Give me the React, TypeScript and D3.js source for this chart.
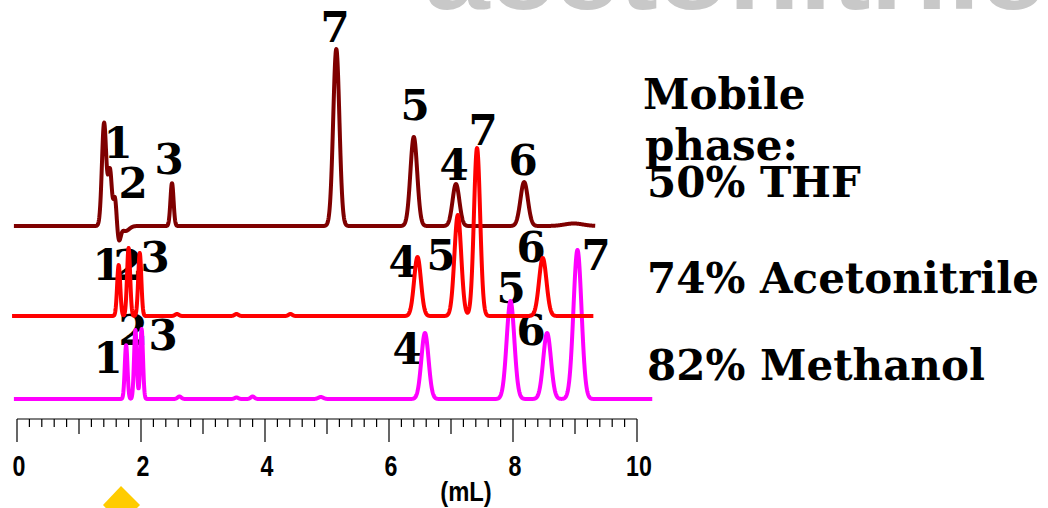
import React from 'react';
import * as d3 from 'd3';

// ---------- DATA ----------
// x axis (elution volume, mL)
const majorTicks = [0, 2, 4, 6, 8, 10];
const axisTitle = '(mL)';
const headerText = 'acetonitrile';
const legendLines = ['Mobile', 'phase:', '50% THF', '74% Acetonitrile', '82% Methanol'];

// Peak tables: retention (mL), height (signal units), width (sigma, mL)
const thfRetention = [1.405, 1.50, 1.58, 1.645, 1.75, 2.50, 5.15, 6.40, 7.08, 8.18, 8.98];
const thfHeight = [103, 55, 28, -14, -5, 43, 177, 89, 42, 44, 2.5];
const thfWidth = [0.035, 0.03, 0.025, 0.028, 0.06, 0.025, 0.05, 0.055, 0.055, 0.06, 0.15];

const acnRetention = [1.64, 1.80, 1.98, 2.58, 3.54, 4.41, 6.46, 7.11, 7.42, 8.48];
const acnHeight = [51, 68, 63, 2, 2, 2, 59, 101, 168, 58];
const acnWidth = [0.025, 0.025, 0.025, 0.03, 0.03, 0.03, 0.055, 0.055, 0.05, 0.06];

const meohRetention = [1.76, 1.91, 2.01, 2.62, 3.54, 3.80, 4.90, 6.58, 7.96, 8.55, 9.04];
const meohHeight = [54, 69, 70, 2.5, 1.5, 2.5, 2, 66, 98, 66, 149];
const meohWidth = [0.022, 0.022, 0.022, 0.03, 0.03, 0.03, 0.04, 0.058, 0.062, 0.062, 0.065];

const thfLabels = ['1', '2', '3', '7', '5', '4', '6'];
const acnLabels = ['1', '2', '3', '4', '5', '7', '6'];
const meohLabels = ['1', '2', '3', '4', '5', '6', '7'];

// ---------- LAYOUT ----------
const W = 1048;
const H = 508;
const xScale = d3.scaleLinear().domain([0, 10]).range([17, 637]);
const yScale = d3.scaleLinear().domain([0, 100]).range([0, -100]);
const axisY = 419;

const traces = [
  { ret: thfRetention, hgt: thfHeight, wid: thfWidth, base: 226, from: -0.05, to: 9.33, color: '#7f0000' },
  { ret: meohRetention, hgt: meohHeight, wid: meohWidth, base: 399, from: -0.05, to: 10.25, color: '#ff00ff' },
  { ret: acnRetention, hgt: acnHeight, wid: acnWidth, base: 316, from: -0.08, to: 9.3, color: '#ff0000' },
];

// label placements (center x, baseline y), pixel layout
const thfLabelPos = [[118, 158], [133, 198], [169, 174], [335, 42], [415, 120], [454, 180], [523, 175]];
const acnLabelPos = [[107, 280], [128, 280], [155, 272], [403, 277], [441, 270], [483, 145], [531, 262]];
const meohLabelPos = [[108, 373], [133, 345], [163, 350], [407, 364], [511, 303], [531, 345], [596, 270]];
const legendPos = [[643, 109], [645, 160], [647, 197], [647, 293], [647, 380]];

const serif = '"DejaVu Serif", serif';
const sans = '"Liberation Sans", Arial, sans-serif';

function tracePath(t: any): string {
  const grid = d3.range(t.from, t.to, 0.004);
  const pts: [number, number][] = grid.map((v: number) => {
    let s = 0;
    for (let i = 0; i < t.ret.length; i++) {
      const z = (v - t.ret[i]) / t.wid[i];
      s += t.hgt[i] * Math.exp(-0.5 * z * z);
    }
    return [v, s];
  });
  const line = d3
    .line<[number, number]>()
    .x((d) => xScale(d[0]))
    .y((d) => t.base + yScale(d[1]));
  return line(pts) || '';
}

export default function App() {
  const minorTicks = d3.range(0, 10.0001, 0.2).map((v: number) => Math.round(v * 10) / 10);
  const labelSets: [string[], number[][]][] = [
    [thfLabels, thfLabelPos],
    [acnLabels, acnLabelPos],
    [meohLabels, meohLabelPos],
  ];
  return (
    <svg
      width={W}
      height={H}
      style={{ position: 'absolute', left: 0, top: 0, background: '#fff' }}
    >
      <rect x={0} y={0} width={W} height={H} fill="#fff" />
      {/* header text, cut off by the top edge */}
      <text
        x={425}
        y={9}
        fontFamily='"Liberation Sans", Arial, sans-serif'
        fontWeight="bold"
        fontSize={100}
        fill="#c8c8c8"
        textLength={620}
        lengthAdjust="spacingAndGlyphs"
      >
        {headerText}
      </text>

      {/* peak labels */}
      {labelSets.map(([labs, pos], k) =>
        labs.map((l, i) => (
          <text
            key={`l${k}-${i}`}
            x={pos[i][0]}
            y={pos[i][1]}
            textAnchor="middle"
            fontFamily={serif}
            fontWeight="bold"
            fontSize={42}
            fill="#000"
          >
            {l}
          </text>
        ))
      )}

      {/* traces */}
      {traces.map((t, i) => (
        <path
          key={`t${i}`}
          d={tracePath(t)}
          fill="none"
          stroke={t.color}
          strokeWidth={4}
          strokeLinejoin="round"
          strokeLinecap="butt"
        />
      ))}

      {/* legend text */}
      {legendLines.map((s, i) => (
        <text
          key={`g${i}`}
          x={legendPos[i][0]}
          y={legendPos[i][1]}
          fontFamily={serif}
          fontWeight="bold"
          fontSize={42}
          fill="#000"
        >
          {s}
        </text>
      ))}

      {/* x axis */}
      <line x1={xScale(0)} x2={xScale(10)} y1={axisY} y2={axisY} stroke="#000" strokeWidth={1.2} />
      {minorTicks.map((v: number) => {
        const isMajor = Math.abs(v % 2) < 1e-6 || Math.abs((v % 2) - 2) < 1e-6;
        const isMid = !isMajor && Math.abs(v - Math.round(v)) < 1e-6;
        const len = isMajor ? 23 : isMid ? 15 : 8;
        return (
          <line
            key={`tk${v}`}
            x1={xScale(v)}
            x2={xScale(v)}
            y1={axisY}
            y2={axisY + len}
            stroke="#000"
            strokeWidth={1.2}
          />
        );
      })}
      {majorTicks.map((v) => (
        <text
          key={`tl${v}`}
          transform={`translate(${xScale(v) + 2},476) scale(0.8,1)`}
          textAnchor="middle"
          fontFamily={sans}
          fontWeight="bold"
          fontSize={29}
          fill="#000"
        >
          {v}
        </text>
      ))}
      <text
        transform="translate(466,501) scale(0.85,1)"
        textAnchor="middle"
        fontFamily={sans}
        fontWeight="bold"
        fontSize={28}
        fill="#000"
      >
        {axisTitle}
      </text>

      {/* yellow marker at the bottom */}
      <polygon points="121,486 103,505 121,524 140,505" fill="#ffcc00" />
    </svg>
  );
}
